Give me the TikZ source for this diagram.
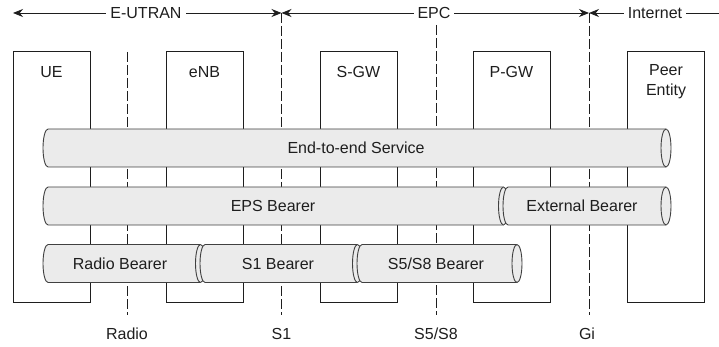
\documentclass[tikz,border=0pt]{standalone}
\usepackage{fontspec}
\setmainfont{Liberation Sans}
\usetikzlibrary{arrows.meta}
\definecolor{cylfill}{HTML}{EBEBEB}
\definecolor{cylline}{HTML}{404040}
\definecolor{ink}{HTML}{1E1E1E}
\newcommand\mycyl[4]{%
  \filldraw[cylstyle] (#2,#3) -- (#1,#3) arc[start angle=90,end angle=270,x radius=5pt,y radius=19pt] -- (#2,#4) arc[start angle=-90,end angle=90,x radius=5pt,y radius=19pt] -- cycle;
  \draw[cylstyle] (#2,#3) arc[start angle=90,end angle=270,x radius=5pt,y radius=19pt];}
\tikzset{
  cylstyle/.style={draw=cylline,fill=cylfill,line width=0.9pt},
  boxstyle/.style={draw=ink,line width=1pt,minimum width=77pt,minimum height=250pt,inner sep=0pt},
  dashline/.style={draw=ink,line width=0.9pt,dash pattern=on 10pt off 3pt},
  topline/.style={draw=ink,line width=0.9pt},
  txt/.style={text=ink,font=\fontsize{16}{19.5}\selectfont,inner sep=0pt},
  toplabel/.style={txt,fill=white,inner xsep=4pt,inner ysep=2pt},
  tip/.style={-{Stealth[length=10pt,width=8pt]}}
}
\begin{document}
\begin{tikzpicture}[x=1pt,y=-1pt]
\useasboundingbox (0,0) rectangle (719,347);
% boxes
\node[boxstyle] (ue)   at (51.5,177) {};
\node[boxstyle] (enb)  at (204.5,177) {};
\node[boxstyle] (sgw)  at (358.5,177) {};
\node[boxstyle] (pgw)  at (511.5,177) {};
\node[boxstyle] (peer) at (666,177) {};
\node[txt] (uel)   at (51.5,72) {UE};
\node[txt] (enbl)  at (204.5,72) {eNB};
\node[txt] (sgwl)  at (358.5,72) {S-GW};
\node[txt] (pgwl)  at (511.5,72) {P-GW};
\node[txt,align=center] (peerl) at (666,81.5) {Peer\\Entity};
% interface lines
\coordinate (rt) at (127,52);
\coordinate (rb) at (127,315);
\coordinate (st) at (281.5,13);
\coordinate (sb) at (281.5,315);
\coordinate (ft) at (436,25);
\coordinate (fb) at (436,315);
\coordinate (gt) at (589,13);
\coordinate (gb) at (589,315);
\draw[dashline] (rt) -- (rb);
\draw[dashline] (st) -- (sb);
\draw[dashline] (ft) -- (fb);
\draw[dashline] (gt) -- (gb);
\node[txt] (radiol) at (127,334) {Radio};
\node[txt] (s1l) at (281.5,334) {S1};
\node[txt] (s5l) at (436,334) {S5/S8};
\node[txt] (gil) at (587,334) {Gi};
% top domain arrows
\coordinate (a0) at (13,13);
\coordinate (a1) at (719,13);
\draw[topline,tip] (146,13) -- (a0);
\draw[topline,tip] (146,13) -- (st);
\draw[topline,tip] (434,13) -- (st);
\draw[topline,tip] (434,13) -- (gt);
\draw[topline,tip] (655,13) -- (gt);
\draw[topline] (655,13) -- (a1);
\node[toplabel] (eutran) at (146,13) {E-UTRAN};
\node[toplabel] (epc) at (434,13) {EPC};
\node[toplabel] (inet) at (655,13) {Internet};
% bearers
\mycyl{48}{666}{129}{167}
\mycyl{48}{503.5}{187}{225}
\mycyl{508}{666}{187}{225}
\mycyl{48}{200.5}{244.5}{282.5}
\mycyl{205}{357.5}{244.5}{282.5}
\mycyl{362}{517}{244.5}{282.5}
\node[txt] (e2e) at (356,148) {End-to-end Service};
\node[txt] (eps) at (273,206) {EPS Bearer};
\node[txt] (ext) at (582,206) {External Bearer};
\node[txt] (rb1) at (120,263.5) {Radio Bearer};
\node[txt] (s1b) at (278,263.5) {S1 Bearer};
\node[txt] (s5b) at (436,263.5) {S5/S8 Bearer};
\end{tikzpicture}
\end{document}
